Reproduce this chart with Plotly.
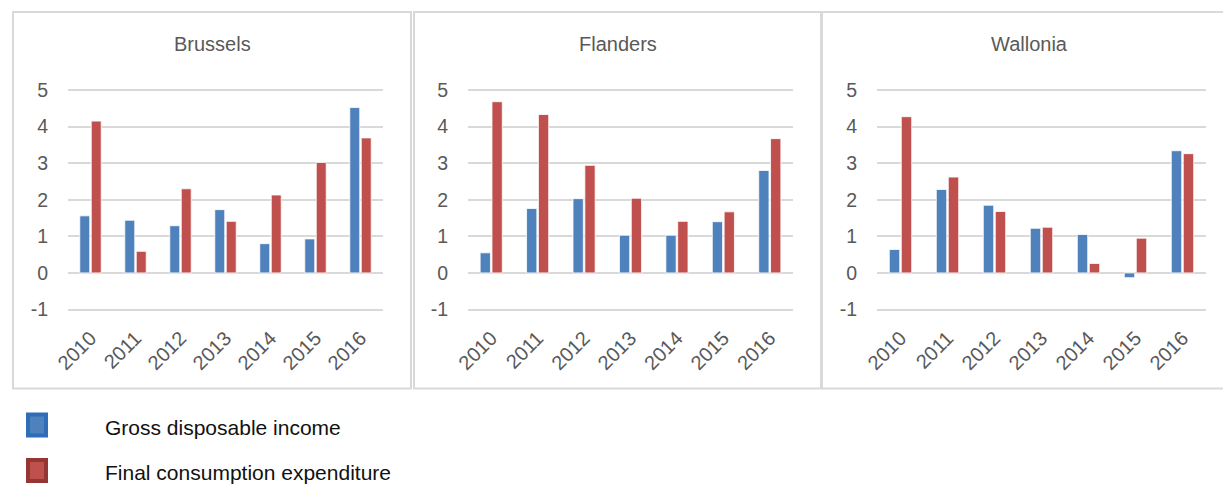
import plotly.graph_objects as go

years = ["2010", "2011", "2012", "2013", "2014", "2015", "2016"]
regions = ["Brussels", "Flanders", "Wallonia"]
series_names = ["Gross disposable income", "Final consumption expenditure"]

brussels_income = [1.56, 1.44, 1.29, 1.73, 0.80, 0.93, 4.52]
brussels_consumption = [4.15, 0.59, 2.30, 1.41, 2.13, 3.02, 3.69]
flanders_income = [0.55, 1.76, 2.03, 1.03, 1.03, 1.40, 2.80]
flanders_consumption = [4.68, 4.33, 2.94, 2.04, 1.41, 1.67, 3.67]
wallonia_income = [0.64, 2.28, 1.85, 1.22, 1.05, -0.13, 3.34]
wallonia_consumption = [4.27, 2.62, 1.68, 1.25, 0.26, 0.95, 3.26]

y_ticks = [-1, 0, 1, 2, 3, 4, 5]
y_ticktext = [str(v) for v in y_ticks]

data = {
    "Brussels": (brussels_income, brussels_consumption),
    "Flanders": (flanders_income, flanders_consumption),
    "Wallonia": (wallonia_income, wallonia_consumption),
}

BLUE = "#4F81BD"
RED = "#C0504D"
W, H = 1223, 484

def px(x):
    return x / W

def py(y):
    return 1 - y / H

x_domains = [(68, 383), (468, 793), (877, 1206)]
panel_boxes = [(13, 411), (414, 821), (822, 1240)]
y_domain = [py(310.6), py(88.9)]

fig = go.Figure()
for i, reg in enumerate(regions):
    inc, con = data[reg]
    xa = "x" if i == 0 else f"x{i+1}"
    ya = "y" if i == 0 else f"y{i+1}"
    fig.add_trace(go.Bar(x=years, y=inc, name=series_names[0], marker=dict(color=BLUE, line=dict(color="white", width=0.8)),
                         xaxis=xa, yaxis=ya, showlegend=False))
    fig.add_trace(go.Bar(x=years, y=con, name=series_names[1], marker=dict(color=RED, line=dict(color="white", width=0.8)),
                         xaxis=xa, yaxis=ya, showlegend=False))

layout = dict(
    width=W, height=H,
    margin=dict(l=0, r=0, t=0, b=0, pad=0, autoexpand=False),
    paper_bgcolor="white", plot_bgcolor="white",
    barmode="group", bargap=0.49, bargroupgap=0.13,
    font=dict(family="Liberation Sans, Arial, sans-serif", color="#595959"),
    showlegend=False,
)
for i in range(3):
    xk = "xaxis" if i == 0 else f"xaxis{i+1}"
    yk = "yaxis" if i == 0 else f"yaxis{i+1}"
    ya = "y" if i == 0 else f"y{i+1}"
    xa = "x" if i == 0 else f"x{i+1}"
    layout[xk] = dict(domain=[px(x_domains[i][0]), px(x_domains[i][1])], anchor=ya, automargin=False,
                      type="category", tickangle=-45, showgrid=False, showline=False, zeroline=False,
                      ticks="outside", ticklen=7, tickcolor="rgba(0,0,0,0)",
                      tickfont=dict(size=20, color="#595959"), fixedrange=True)
    layout[yk] = dict(domain=y_domain, anchor=xa, automargin=False, range=[-1.03, 5.03],
                      tickvals=y_ticks, ticktext=y_ticktext,
                      showgrid=True, gridcolor="#D9D9D9", gridwidth=2,
                      zeroline=True, zerolinecolor="#D9D9D9", zerolinewidth=2,
                      showline=False, ticks="outside", ticklen=15, tickcolor="rgba(0,0,0,0)",
                      tickfont=dict(size=19.5, color="#595959"), fixedrange=True)
fig.update_layout(**layout)

shapes = []
annotations = []
for i, reg in enumerate(regions):
    x0, x1 = panel_boxes[i]
    shapes.append(dict(type="rect", xref="paper", yref="paper", x0=px(x0), x1=px(x1), y0=py(388.5), y1=py(12),
                       line=dict(color="#D9D9D9", width=2), fillcolor="rgba(0,0,0,0)", layer="below"))
    annotations.append(dict(text=reg, xref="paper", yref="paper", x=px((x0 + min(x1, 1236)) / 2), y=py(44),
                            xanchor="center", yanchor="middle", showarrow=False,
                            font=dict(size=20, color="#595959")))

legend_items = [(series_names[0], BLUE, "#2E6DB8", 425), (series_names[1], RED, "#943634", 470.5)]
for name, fill, edge, yc in legend_items:
    shapes.append(dict(type="rect", xref="paper", yref="paper", x0=px(28), x1=px(46), y0=py(yc + 10.5), y1=py(yc - 10.5),
                       line=dict(color=edge, width=4), fillcolor=fill))
    annotations.append(dict(text=name, xref="paper", yref="paper", x=px(103), y=py(yc + 2), xanchor="left", yanchor="middle",
                            showarrow=False, font=dict(size=21, color="#111111")))

fig.update_layout(shapes=shapes, annotations=annotations)
fig.write_html("out.html", post_script="document.body.style.margin='0px';document.body.style.overflow='hidden';")
